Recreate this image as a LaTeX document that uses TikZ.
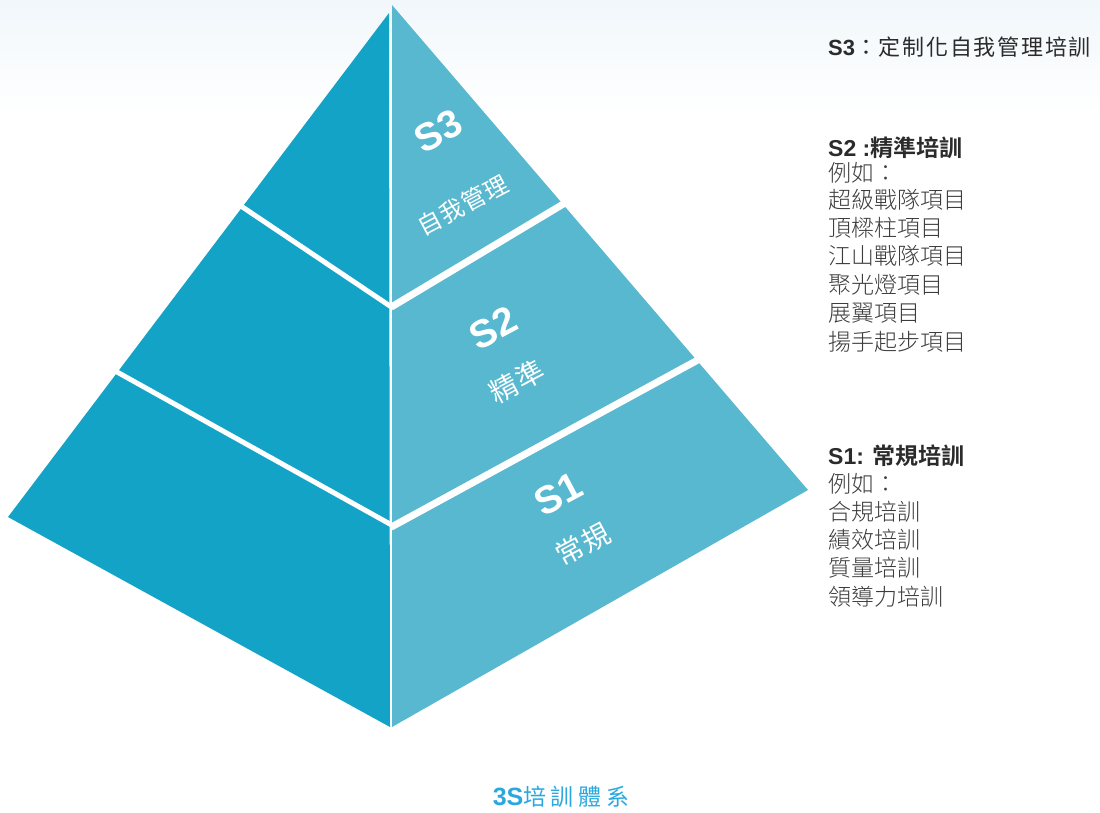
\documentclass[tikz,border=0pt]{standalone}
\usepackage{fontspec}
\setmainfont{Liberation Sans}
\newfontfamily\cjk{Noto Sans CJK TC}[BoldFont={Noto Sans CJK TC Bold}]
\newfontfamily\cjklight{Noto Sans CJK TC Light}
\usetikzlibrary{calc}
\definecolor{darkface}{HTML}{13A3C6}
\definecolor{lightface}{HTML}{57B8D0}
\definecolor{titleblue}{HTML}{2AA8DE}
\definecolor{txt}{HTML}{2B2B2B}
\definecolor{listtxt}{HTML}{3C3C3C}
\definecolor{bgtop}{HTML}{F1F7FB}
\begin{document}
\begin{tikzpicture}[x=1pt,y=-1pt,
  gapl/.style={white,line width=5pt},
  gapr/.style={white,line width=7pt},
  plabel/.style={white,rotate=28,inner sep=0pt},
  hdr/.style={anchor=west,inner sep=0pt,text=txt},
  item/.style={anchor=west,inner sep=0pt,text=listtxt,font=\cjklight\fontsize{23}{23}\selectfont}]
\useasboundingbox (0,0) rectangle (1100,812);
\shade[top color=bgtop,bottom color=white] (0,0) rectangle (1100,115);
% faces
\fill[darkface] (389,13) -- (8,517) -- (390,727) -- cycle;
\fill[lightface] (392,5) -- (808,490) -- (392,727) -- cycle;
% divider gaps
\draw[gapl] (225,195.3) -- (391,306.7);
\draw[gapl] (100,362.5) -- (391,524.6);
\draw[gapr] (391,307.2) -- (580,194);
\draw[gapr] (391,527.2) -- (720,347.9);
% pyramid labels
\node[plabel,font=\bfseries\fontsize{39}{39}\selectfont] (l3) at (438,131) {S3};
\node[plabel,font=\cjk\fontsize{24}{24}\selectfont] (l3c) at (463,205) {\addfontfeatures{LetterSpace=4}自我管理};
\node[plabel,font=\bfseries\fontsize{39}{39}\selectfont] (l2) at (493,328) {S2};
\node[plabel,font=\cjk\fontsize{28}{28}\selectfont] (l2c) at (517,382) {\addfontfeatures{LetterSpace=6}精準};
\node[plabel,font=\bfseries\fontsize{39}{39}\selectfont] (l1) at (558,494) {S1};
\node[plabel,font=\cjk\fontsize{28}{28}\selectfont] (l1c) at (583,544) {\addfontfeatures{LetterSpace=6}常規};
% right texts
\node[hdr,font=\fontsize{22}{22}\selectfont] (t3) at (828,47) {\textbf{S3}{\cjk\addfontfeatures{LetterSpace=8}：定制化自我管理培訓}};
\node[hdr,font=\fontsize{23}{23}\selectfont] (t2) at (828,148) {\textbf{S2 :}{\cjk\bfseries 精準培訓}};
\node[item] (t2a) at (828,173) {例如：};
\node[item] (t2b) at (828,200) {超級戰隊項目};
\node[item] (t2c) at (828,228) {頂樑柱項目};
\node[item] (t2d) at (828,256) {江山戰隊項目};
\node[item] (t2e) at (828,285) {聚光燈項目};
\node[item] (t2f) at (828,313) {展翼項目};
\node[item] (t2g) at (828,342) {揚手起步項目};
\node[hdr,font=\fontsize{23}{23}\selectfont] (t1) at (828,456) {\textbf{S1:} {\cjk\bfseries 常規培訓}};
\node[item] (t1a) at (828,484) {例如：};
\node[item] (t1b) at (828,512) {合規培訓};
\node[item] (t1c) at (828,540) {績效培訓};
\node[item] (t1d) at (828,568) {質量培訓};
\node[item] (t1e) at (828,597) {領導力培訓};
% title
\node[inner sep=0pt,text=titleblue] (title) at (561,797) {{\bfseries\fontsize{25}{25}\selectfont 3S}{\cjk\fontsize{23}{23}\selectfont\addfontfeatures{LetterSpace=20}培訓體系}};
\end{tikzpicture}
\end{document}
